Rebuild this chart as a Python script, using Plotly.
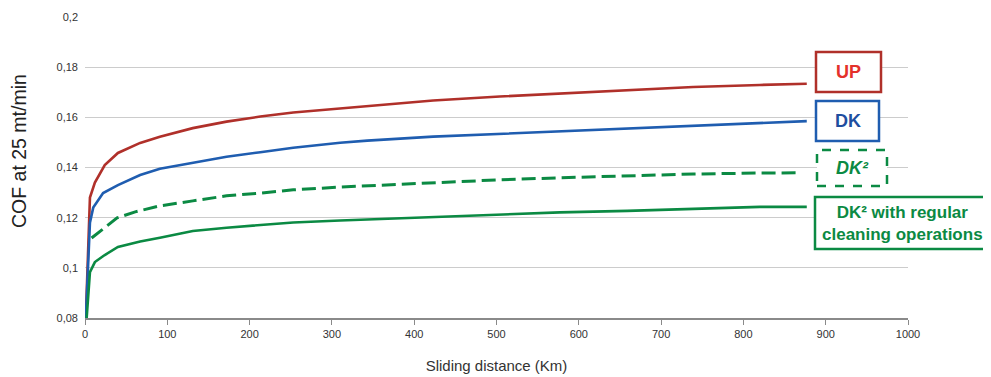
import plotly.graph_objects as go

# ---- data ----
up_x = [1, 6, 12, 24, 40, 67, 91, 131, 172, 213, 253, 310, 343, 423, 504, 577, 659, 739, 820, 877]
up_y = [0.08, 0.128, 0.134, 0.141, 0.1458, 0.1498, 0.1523, 0.1557, 0.1583, 0.1603, 0.1619, 0.1636, 0.1645,
        0.1667, 0.1683, 0.1695, 0.1707, 0.1721, 0.1729, 0.1734]

dk_x = [1, 6, 10, 22, 40, 67, 91, 131, 172, 213, 253, 310, 343, 423, 504, 577, 659, 739, 820, 877]
dk_y = [0.08, 0.118, 0.124, 0.1298, 0.133, 0.137, 0.1395, 0.1419, 0.1443, 0.1461, 0.1479, 0.1499, 0.1507,
        0.1523, 0.1534, 0.1545, 0.1557, 0.1567, 0.1577, 0.1585]

dk2_x = [8, 27, 39, 61, 91, 131, 172, 213, 253, 310, 343, 423, 504, 577, 659, 739, 820, 869]
dk2_y = [0.1119, 0.1167, 0.1199, 0.1223, 0.1247, 0.1267, 0.1287, 0.1298, 0.1311, 0.1322, 0.1327, 0.1338,
         0.1351, 0.1359, 0.1367, 0.1374, 0.1378, 0.1379]

dk2c_x = [2, 6, 12, 24, 40, 67, 91, 131, 172, 213, 253, 310, 343, 423, 504, 577, 659, 739, 820, 877]
dk2c_y = [0.08, 0.0983, 0.1023, 0.1051, 0.1083, 0.1105, 0.112, 0.1147, 0.116, 0.1172, 0.1181, 0.1189, 0.1193,
          0.1205, 0.1214, 0.1221, 0.1227, 0.1234, 0.1243, 0.1243]

y_ticks = [0.08, 0.1, 0.12, 0.14, 0.16, 0.18, 0.2]
y_tick_labels = ["0,08", "0,1", "0,12", "0,14", "0,16", "0,18", "0,2"]
x_ticks = [0, 100, 200, 300, 400, 500, 600, 700, 800, 900, 1000]

RED = "#b0302a"
BLUE = "#1f5db0"
GREEN = "#0b8a43"

fig = go.Figure()
fig.add_trace(go.Scatter(x=up_x, y=up_y, mode="lines", line=dict(color=RED, width=2.6), showlegend=False))
fig.add_trace(go.Scatter(x=dk_x, y=dk_y, mode="lines", line=dict(color=BLUE, width=2.6), showlegend=False))
fig.add_trace(go.Scatter(x=dk2_x, y=dk2_y, mode="lines", line=dict(color=GREEN, width=3, dash="14px,6px"), showlegend=False))
fig.add_trace(go.Scatter(x=dk2c_x, y=dk2c_y, mode="lines", line=dict(color=GREEN, width=2.6), showlegend=False))

# page body has an 8px margin; screen coords = figure coords + 8
OFF = 8
W, H = 991 - OFF, 377 - OFF
# plot area in screen pixels: x 85..908, y 17..318
L, R, T, B = 85, 908, 17, 318
def px(xp):
    return (xp - L) / (R - L)
def py(yp):
    return (B - yp) / (B - T)

FONT = "Liberation Sans, Arial, sans-serif"
boxes = [
    (816, 52, 881, 92, RED, "solid", "<b>UP</b>", "#e4312b", 18),
    (816, 101, 879, 141, BLUE, "solid", "<b>DK</b>", "#1f4e9f", 18),
    (817, 150, 887, 186, GREEN, "dash", "<b><i>DK²</i></b>", GREEN, 18),
    (815, 197, 989, 249, GREEN, "solid", "<b>DK² with regular<br>cleaning operations</b>", GREEN, 17),
]
shapes = []
annotations = []
for x0, y0, x1, y1, col, dash, txt, tcol, size in boxes:
    shapes.append(dict(type="rect", xref="paper", yref="paper",
                       x0=px(x0), x1=px(x1), y0=py(y1), y1=py(y0),
                       line=dict(color=col, width=2.5, dash=dash), fillcolor="white", layer="above"))
    annotations.append(dict(xref="paper", yref="paper", x=px((x0 + x1) / 2), y=py((y0 + y1) / 2),
                            text=txt, showarrow=False, xanchor="center", yanchor="middle",
                            font=dict(color=tcol, size=size, family=FONT)))

# y-axis title (placed higher than the plot centre, as in the reference)
annotations.append(dict(xref="paper", yref="paper", x=px(19), y=py(151), text="COF at 25 mt/min",
                        textangle=-90, showarrow=False, xanchor="center", yanchor="middle",
                        font=dict(size=19.5, color="#222222", family=FONT)))

fig.update_layout(
    width=W, height=H,
    margin=dict(l=L - OFF, r=W - (R - OFF), t=T - OFF, b=H - (B - OFF), autoexpand=False),
    plot_bgcolor="white", paper_bgcolor="white",
    font=dict(family=FONT, color="#333333"),
    shapes=shapes, annotations=annotations,
    xaxis=dict(range=[0, 1000], tickvals=x_ticks, showgrid=False, zeroline=False, automargin=False,
               showline=True, linecolor="#8a8a8a", linewidth=1.5,
               ticks="outside", ticklen=5, tickcolor="#8a8a8a",
               tickfont=dict(size=11, color="#333333"),
               title=dict(text="Sliding distance (Km)", font=dict(size=15, color="#333333"), standoff=22)),
    yaxis=dict(range=[0.08, 0.2], tickvals=y_ticks, ticktext=y_tick_labels, automargin=False,
               showgrid=True, gridcolor="#cccccc", gridwidth=1, zeroline=False, showline=False,
               ticks="", ticklabelstandoff=6,
               tickfont=dict(size=11, color="#333333")),
)

fig.write_html("out.html")
